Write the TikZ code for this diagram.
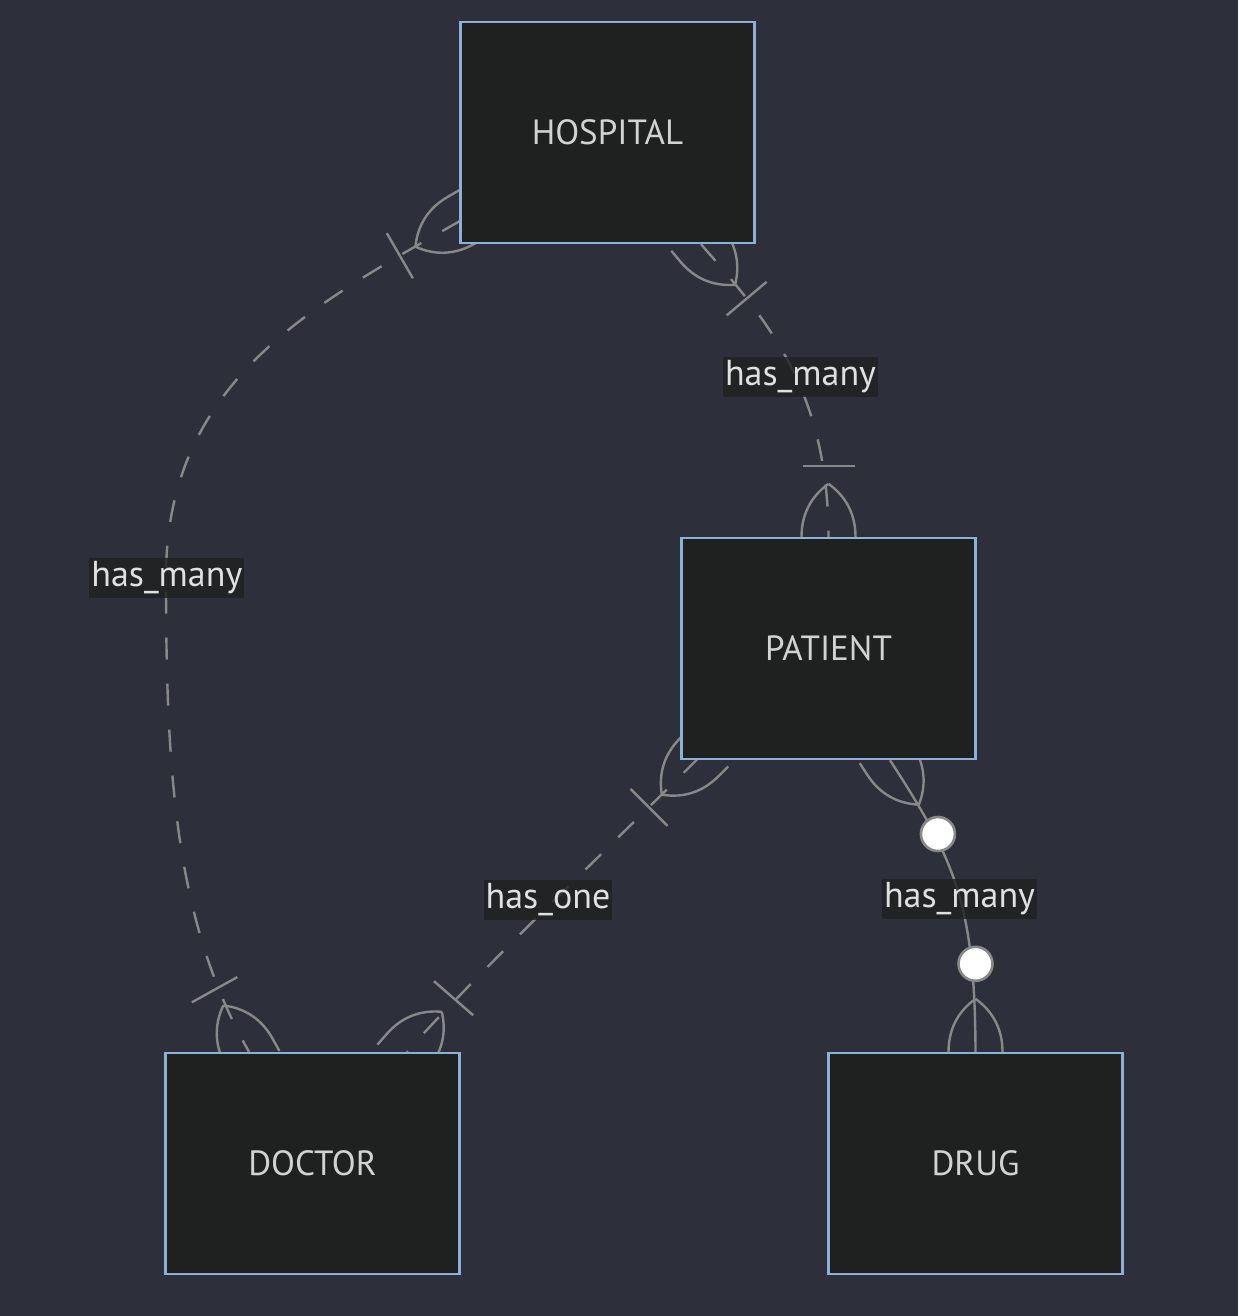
\documentclass[tikz,border=0pt]{standalone}
\usepackage{fontspec}
\setmainfont{PT Sans}
\usetikzlibrary{calc}

\definecolor{canvas}{RGB}{45,48,59}
\definecolor{boxfill}{RGB}{31,32,32}
\definecolor{boxline}{RGB}{140,176,216}
\definecolor{nametext}{RGB}{210,210,210}
\definecolor{labeltext}{RGB}{224,224,224}
\definecolor{relline}{RGB}{136,136,136}

\pgfdeclarelayer{bg}
\pgfdeclarelayer{edges}
\pgfsetlayers{bg,edges,main}

% crow's foot, bar and ring drawn at an end point, turned away from the box
\newcommand{\erfoot}[2]{%
  \begin{scope}[shift={(#1)}, rotate=#2]
    \draw[mark line] (53,0) .. controls (40,18) and (22,27) .. (0,27) -- (-14,27);
    \draw[mark line] (53,0) .. controls (40,-18) and (22,-27) .. (0,-27) -- (-14,-27);
  \end{scope}}
\newcommand{\erbar}[2]{%
  \begin{scope}[shift={(#1)}, rotate=#2]
    \draw[mark line] (71,-26) -- (71,26);
  \end{scope}}
\newcommand{\erring}[2]{%
  \begin{scope}[shift={(#1)}, rotate=#2]
    \draw[mark ring] (88,0) circle[radius=17];
  \end{scope}}

\begin{document}
\begin{tikzpicture}[
  x=0.5pt, y=-0.5pt,
  entity/.style={rectangle, draw=boxline, line width=1.2pt, fill=boxfill, minimum width=147pt, minimum height=110.5pt, inner sep=0pt, text=nametext, font=\fontsize{17.5}{20}\selectfont},
  rellabel/.style={fill=boxfill, fill opacity=0.8, text opacity=1, text=labeltext, inner xsep=1pt, inner ysep=0pt, minimum height=20pt, font=\fontsize{18}{21}\selectfont},
  rel/.style={draw=relline, line width=1.2pt},
  reldash/.style={rel, dash pattern=on 11pt off 12pt},
  mark line/.style={draw=relline, line width=1.2pt},
  mark ring/.style={draw=relline, line width=1.3pt, fill=white},
]
\useasboundingbox (0,0) rectangle (1238,1316);
\begin{pgfonlayer}{bg}
  \fill[canvas] (0,0) rectangle (1238,1316);
\end{pgfonlayer}

% === entities ===
\node[entity] (hospital) at (607.5,132.5) {HOSPITAL};
\node[entity] (patient) at (828.5,648.5) {PATIENT};
\node[entity] (doctor) at (312.5,1163.5) {DOCTOR};
\node[entity] (drug) at (975.5,1163.5) {DRUG};

% === end points on the boxes ===
\coordinate (hd-h) at ($(hospital.south west)+(2,-24)$);
\coordinate (hd-d) at ($(doctor.north)+(-63.5,0)$);
\coordinate (hp-h) at ($(hospital.south)+(93.5,0)$);
\coordinate (hp-p) at (patient.north);
\coordinate (pd-p) at ($(patient.south west)+(19,-3)$);
\coordinate (pd-d) at ($(doctor.north)+(94.5,0)$);
\coordinate (pr-p) at ($(patient.south)+(61.5,0)$);
\coordinate (pr-r) at (drug.north);

\begin{pgfonlayer}{edges}
  % hospital -- doctor
  \draw[reldash] (hd-h) .. controls (315,304) and (166,380) .. (166,577)
    .. controls (166,776) and (175.5,922.5) .. (hd-d);
  \erfoot{hd-h}{210} \erbar{hd-h}{210}
  \erfoot{hd-d}{119} \erbar{hd-d}{119}
  % hospital -- patient
  \draw[reldash] (hp-h) .. controls (766,319) and (828,388) .. (hp-p);
  \erfoot{hp-h}{-50} \erbar{hp-h}{-50}
  \erfoot{hp-p}{90} \erbar{hp-p}{90}
  % patient -- doctor
  \draw[reldash] (pd-p) .. controls (630,827) and (473,977) .. (pd-d);
  \erfoot{pd-p}{225} \erbar{pd-p}{225}
  \erfoot{pd-d}{49} \erbar{pd-d}{49}
  % patient -- drug
  \draw[rel] (pr-p) .. controls (954.7,860) and (975,903) .. (pr-r);
  \erfoot{pr-p}{-57} \erring{pr-p}{-57}
  \erfoot{pr-r}{90} \erring{pr-r}{90}
\end{pgfonlayer}

% === relation labels ===
\node[rellabel] (hd-label) at (166.8,577.5) {has\_many};
\node[rellabel] (hp-label) at (800.5,376.5) {has\_many};
\node[rellabel] (pd-label) at (548,899.5) {has\_one};
\node[rellabel] (pr-label) at (959.5,898.5) {has\_many};

\end{tikzpicture}
\end{document}
